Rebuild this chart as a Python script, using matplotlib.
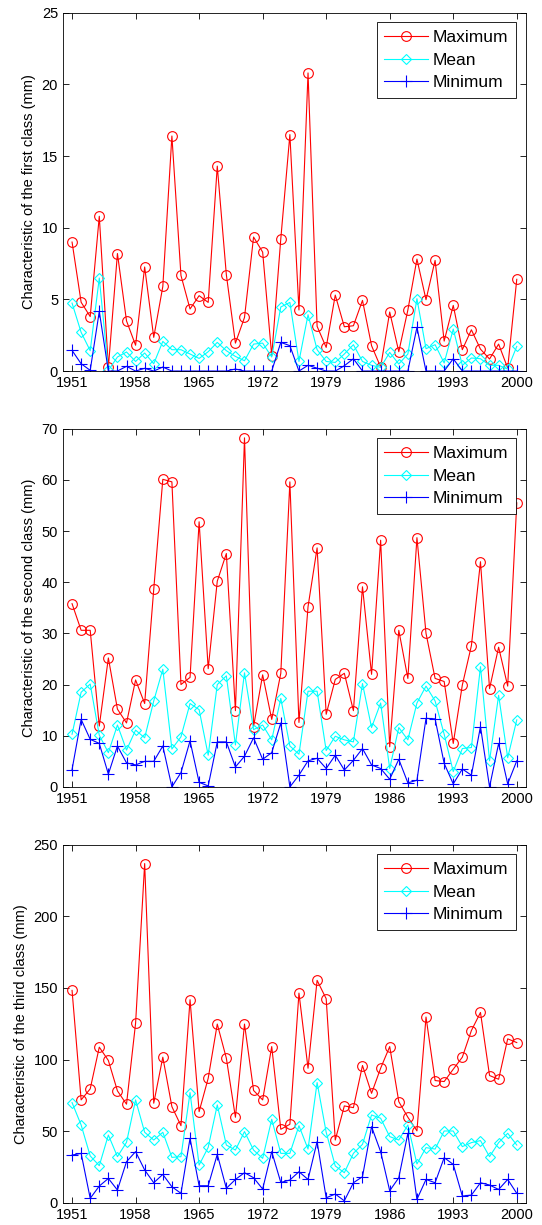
import numpy as np
import matplotlib.pyplot as plt

plt.rcParams['font.family'] = ['Liberation Sans', 'DejaVu Sans']
plt.rcParams['font.size'] = 10

years = np.arange(1951, 2001)

# first class
max1 = [9.0, 4.8, 3.8, 10.8, 0.26, 8.2, 3.5, 1.8, 7.26, 2.35,
        5.9, 16.4, 6.67, 4.33, 5.26, 4.79, 14.3, 6.72, 1.95, 3.74,
        9.35, 8.3, 1.07, 9.23, 16.5, 4.26, 20.8, 3.12, 1.65, 5.3,
        3.09, 3.16, 4.93, 1.77, 0.28, 4.12, 1.35, 4.26, 7.81, 4.98,
        7.72, 2.09, 4.58, 1.49, 2.88, 1.53, 0.84, 1.88, 0.21, 6.4]
mean1 = [4.74, 2.7, 1.42, 6.49, 0.05, 0.98, 1.33, 0.67, 1.26, 0.51,
         2.07, 1.49, 1.49, 1.19, 0.88, 1.35, 2.0, 1.42, 1.02, 0.72,
         1.88, 1.95, 0.98, 4.47, 4.79, 0.67, 3.93, 1.49, 0.67, 0.6,
         1.19, 1.84, 0.67, 0.4, 0.26, 1.3, 0.49, 1.19, 5.05, 1.56,
         1.84, 0.56, 2.93, 0.4, 0.91, 0.86, 0.4, 0.4, 0.14, 1.72]
min1 = [1.44, 0.51, 0.05, 4.16, 0.0, 0.0, 0.33, 0.0, 0.19, 0.0,
        0.28, 0.0, 0.0, 0.0, 0.0, 0.0, 0.0, 0.0, 0.14, 0.0,
        0.0, 0.0, 0.0, 2.0, 1.77, 0.0, 0.4, 0.2, 0.0, 0.0,
        0.37, 0.86, 0.0, 0.0, 0.0, 0.0, 0.0, 0.0, 3.05, 0.0,
        0.0, 0.0, 0.86, 0.0, 0.0, 0.0, 0.0, 0.0, 0.0, 0.0]

# second class
max2 = [35.8, 30.6, 30.6, 11.9, 25.2, 15.2, 12.5, 20.9, 16.3, 38.6,
        60.1, 59.6, 20.0, 21.4, 51.8, 23.1, 40.2, 45.6, 14.9, 68.2,
        11.8, 21.9, 13.2, 22.2, 59.6, 12.6, 35.2, 46.7, 14.2, 21.0,
        22.2, 14.9, 39.1, 22.0, 48.2, 7.85, 30.6, 21.2, 48.7, 30.0,
        21.2, 20.6, 8.5, 19.9, 27.6, 44.0, 19.2, 27.3, 19.7, 55.5]
mean2 = [10.3, 18.5, 20.1, 10.1, 6.7, 12.1, 7.2, 11.1, 9.6, 16.8,
         23.0, 7.4, 9.8, 16.3, 15.1, 6.2, 20.0, 21.7, 8.2, 22.3,
         11.2, 12.1, 9.2, 17.3, 8.0, 6.4, 18.7, 18.7, 7.1, 9.9,
         9.2, 8.8, 20.2, 11.6, 16.4, 3.6, 11.6, 9.2, 16.4, 19.7,
         16.8, 10.3, 3.0, 7.5, 7.7, 23.5, 5.1, 17.9, 5.7, 13.1]
min2 = [3.4, 13.2, 9.3, 8.5, 2.5, 8.0, 4.7, 4.3, 5.0, 5.0,
        8.0, 0.0, 2.8, 9.0, 0.9, 0.2, 8.8, 8.8, 3.9, 6.0,
        9.6, 5.4, 6.7, 12.5, 0.0, 2.3, 5.1, 5.6, 3.6, 6.2,
        3.3, 5.2, 7.5, 4.3, 3.6, 1.5, 5.4, 0.8, 1.3, 13.4,
        13.3, 4.6, 0.6, 3.5, 2.3, 11.8, 0.0, 8.5, 0.6, 5.1]

# third class
max3 = [148.3, 71.9, 79.6, 108.7, 99.4, 78.2, 68.9, 125.4, 236.8, 69.6,
        101.7, 67.2, 53.9, 141.8, 63.7, 87.0, 124.8, 101.0, 59.8, 124.8,
        78.5, 71.9, 109.1, 51.4, 54.9, 146.4, 94.0, 155.3, 142.5, 43.9,
        67.7, 66.5, 95.9, 76.5, 94.0, 109.1, 70.7, 59.8, 50.3, 129.7,
        85.4, 84.7, 93.3, 101.7, 120.3, 132.9, 88.9, 86.3, 114.5, 111.9]
mean3 = [70.0, 54.4, 32.8, 26.0, 47.4, 32.3, 42.3, 71.9, 49.3, 43.9,
         49.3, 31.8, 32.3, 77.0, 26.4, 38.8, 68.4, 40.4, 36.9, 49.8,
         36.9, 31.1, 58.4, 34.6, 34.6, 53.9, 37.6, 84.0, 49.3, 25.8,
         21.1, 34.6, 40.9, 61.4, 59.1, 46.3, 43.9, 54.4, 27.2, 38.6,
         37.6, 50.2, 50.2, 39.3, 42.1, 43.5, 32.3, 42.1, 48.6, 40.4]
min3 = [33.4, 34.6, 3.2, 11.8, 17.1, 9.0, 28.8, 35.8, 23.0, 14.1,
        19.9, 11.3, 6.7, 45.1, 12.0, 12.0, 33.9, 10.2, 16.4, 21.1,
        17.6, 9.7, 35.8, 14.3, 16.0, 21.8, 16.4, 42.8, 3.6, 6.2,
        1.5, 14.1, 18.3, 53.2, 35.8, 8.5, 17.6, 48.6, 2.5, 16.4,
        14.1, 31.6, 26.9, 4.8, 5.5, 14.1, 12.5, 9.4, 16.4, 6.7]

xticks = [1951, 1958, 1965, 1972, 1979, 1986, 1993, 2000]

panels = [
    (max1, mean1, min1, 25, 5, 'Characteristic of the first class (mm)', 0.6971),
    (max2, mean2, min2, 70, 10, 'Characteristic of the second class (mm)', 0.3576),
    (max3, mean3, min3, 250, 50, 'Characteristic of the third class (mm)', 0.0180),
]

fig = plt.figure(figsize=(5.42, 12.25), dpi=100)

for mx, mn, lo, ytop, ystep, ylabel, bottom in panels:
    ax = fig.add_axes([0.1162, bottom, 0.854, 0.2925])
    ax.plot(years, mx, '-o', color='red', lw=0.8, ms=7, mfc='none', mew=0.8, label='Maximum')
    ax.plot(years, mn, '-D', color='cyan', lw=0.8, ms=5.5, mfc='none', mew=0.8, label='Mean')
    ax.plot(years, lo, '-+', color='blue', lw=0.8, ms=8, mew=0.8, label='Minimum')
    ax.set_xlim(1950, 2001)
    ax.set_ylim(0, ytop)
    ax.set_xticks(xticks)
    ax.set_yticks(np.arange(0, ytop + 1, ystep))
    ax.tick_params(direction='in', top=True, right=True, length=4, width=0.6, labelsize=10.5)
    for s in ax.spines.values():
        s.set_linewidth(0.6)
    ax.set_ylabel(ylabel, fontsize=10.5, labelpad=4)
    leg = ax.legend(loc='upper right', fontsize=12.5, fancybox=False, edgecolor='black',
                    handlelength=2.5, handletextpad=0.3, borderpad=0.45,
                    borderaxespad=0.55, labelspacing=0.42, framealpha=1)
    leg.get_frame().set_linewidth(0.6)

fig.savefig('out.png', dpi=100)
